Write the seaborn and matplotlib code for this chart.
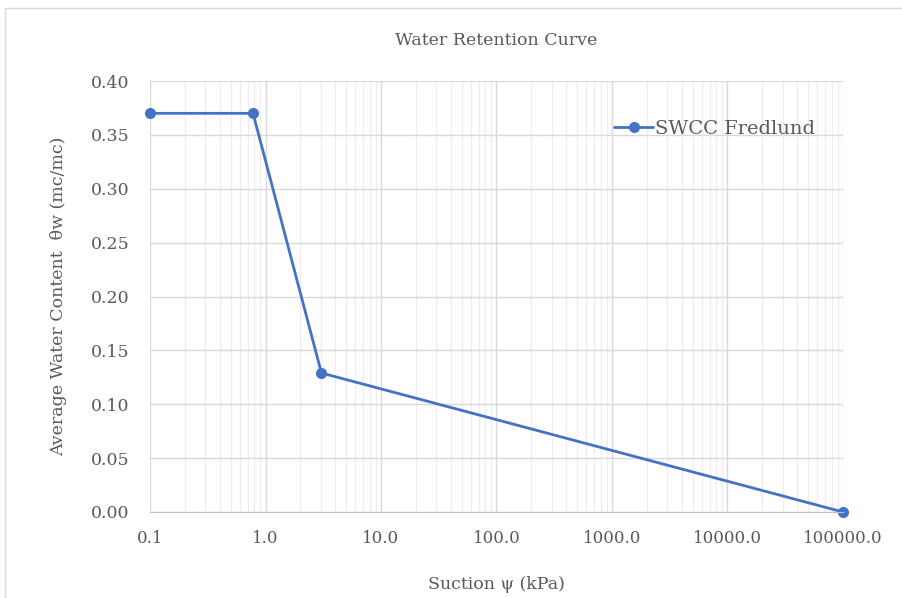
import numpy as np
import pandas as pd
import matplotlib.pyplot as plt
import seaborn as sns
from matplotlib.ticker import LogLocator, FixedLocator, FixedFormatter
from matplotlib.patches import Rectangle

# data
suction = [0.1, 0.78, 3.05, 100000.0]
theta_w = [0.37, 0.37, 0.129, 0.0]
series_name = "SWCC Fredlund"
x_ticks = [0.1, 1, 10, 100, 1000, 10000, 100000]
x_tick_labels = ["0.1", "1.0", "10.0", "100.0", "1000.0", "10000.0", "100000.0"]
y_ticks = [0.0, 0.05, 0.10, 0.15, 0.20, 0.25, 0.30, 0.35, 0.40]

df = pd.DataFrame({"suction": suction, "theta": theta_w, "series": series_name})

sns.set_style("white")
plt.rcParams['font.family'] = ['DejaVu Serif']
text_col = "#595959"
blue = "#4472C4"

fig = plt.figure(figsize=(9.03, 5.98), dpi=100)
ax = fig.add_axes([150/903, 86/598, 693/903, 431/598])

ax.set_xscale("log")
ax.set_xlim(0.1, 100000)
ax.set_ylim(0, 0.40)

# grid
ax.xaxis.set_major_locator(FixedLocator(x_ticks))
ax.xaxis.set_major_formatter(FixedFormatter(x_tick_labels))
ax.xaxis.set_minor_locator(LogLocator(base=10, subs=np.arange(2, 10)))
ax.xaxis.set_minor_formatter(plt.NullFormatter())
ax.set_yticks(y_ticks)
ax.set_yticklabels([f"{v:.2f}" for v in y_ticks])
ax.grid(which="major", color="#D9D9D9", lw=1.0)
ax.grid(which="minor", axis="x", color="#EDEDED", lw=0.9)
ax.set_axisbelow(True)

sns.lineplot(data=df, x="suction", y="theta", hue="series", palette=[blue],
             marker="o", markersize=8, markeredgewidth=0, lw=2, ax=ax)
for ln in ax.lines:
    ln.set_clip_on(False)

for s in ["top", "right", "left"]:
    ax.spines[s].set_visible(False)
ax.spines["bottom"].set_color("#BFBFBF")
ax.tick_params(axis="x", which="major", length=5, color="#BFBFBF", labelsize=12,
               labelcolor=text_col, pad=8)
ax.tick_params(axis="x", which="minor", length=0)
ax.tick_params(axis="y", length=6, color="#D9D9D9", labelsize=12.5,
               labelcolor=text_col, pad=9)

ax.set_xlabel("Suction ψ (kPa)", fontsize=12.5, color=text_col, labelpad=21)
ax.set_ylabel("Average Water Content  θw (mc/mc)", fontsize=12.5, color=text_col,
              labelpad=17)
ax.set_title("Water Retention Curve", fontsize=12.5, color=text_col, pad=26)

leg = ax.legend(loc="upper right", bbox_to_anchor=(0.985, 0.95), frameon=False,
                fontsize=14, handlelength=2.0, handletextpad=0.1)
for t in leg.get_texts():
    t.set_color(text_col)

# outer chart frame
fig.patches.append(Rectangle((5/903, -0.01), 1.0, 1.0 - 8/598 + 0.01,
                             transform=fig.transFigure, fill=False,
                             ec="#D9D9D9", lw=1.0))

fig.savefig("out.png", dpi=100)
